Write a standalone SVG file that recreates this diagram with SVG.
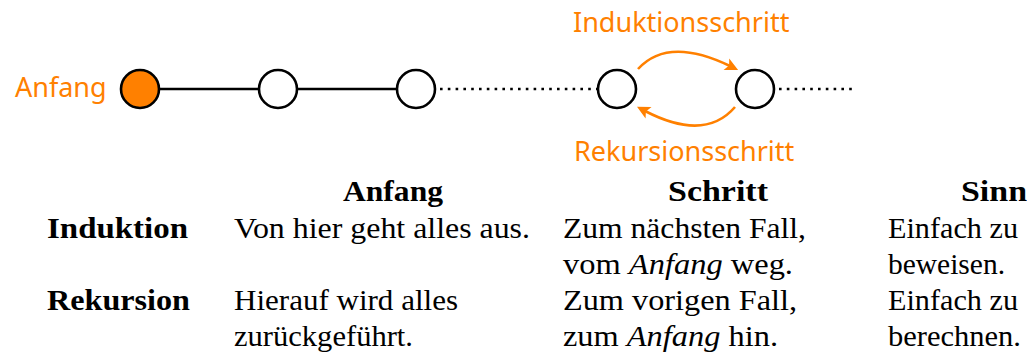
<svg xmlns="http://www.w3.org/2000/svg" width="1027" height="353" viewBox="0 0 1027 353">
<style>
.node{fill:#ffffff;stroke:#000000;stroke-width:2.6}
.start{fill:#ff8000}
.edge{stroke:#000000;stroke-width:2.6;fill:none}
.dot{stroke:#000000;stroke-width:2.6;fill:none;stroke-dasharray:2.6 5.2}
.arc{stroke:#ff8000;stroke-width:2.6;fill:none;marker-end:url(#ah)}
.lbl{font-family:"Noto Sans","Open Sans",sans-serif;font-size:27px;fill:#ff8000}
.t{font-family:"Liberation Serif","Times New Roman",serif;font-size:30px;fill:#000000}
.b{font-weight:bold}
.i{font-style:italic}
</style>
<defs>
<marker id="ah" markerUnits="userSpaceOnUse" markerWidth="24" markerHeight="24" viewBox="-12 -12 24 24" refX="0" refY="0" orient="auto" overflow="visible">
<path d="M-4,-6.5 L9,0 L-4,6.5 L-1,0 Z" fill="#ff8000"/>
</marker>
</defs>
<g id="connectors">
<line class="edge" x1="159" y1="89" x2="259" y2="89"/>
<line class="edge" x1="297" y1="89" x2="397" y2="89"/>
<line class="dot" x1="440" y1="89" x2="597" y2="89"/>
<line class="dot" x1="779" y1="89" x2="856" y2="89"/>
<path class="arc" d="M638,69 Q668,36 730,66"/>
<path class="arc" d="M735,107 Q705,142 645,111"/>
</g>
<g id="node-anfang"><circle class="node start" cx="140" cy="89" r="19"/></g>
<g id="node-2"><circle class="node" cx="278" cy="89" r="19"/></g>
<g id="node-3"><circle class="node" cx="416" cy="89" r="19"/></g>
<g id="node-4"><circle class="node" cx="617" cy="89" r="19"/></g>
<g id="node-5"><circle class="node" cx="755" cy="89" r="19"/></g>
<g id="labels">
<text class="lbl" x="15" y="97">Anfang</text>
<text class="lbl" x="573" y="32">Induktionsschritt</text>
<text class="lbl" x="574" y="161">Rekursionsschritt</text>
</g>
<g id="table">
<text class="t b" x="343" y="201" textLength="100" lengthAdjust="spacingAndGlyphs">Anfang</text>
<text class="t b" x="668" y="201" textLength="100" lengthAdjust="spacingAndGlyphs">Schritt</text>
<text class="t b" x="961" y="201" textLength="66" lengthAdjust="spacingAndGlyphs">Sinn</text>
<text class="t b" x="47" y="238" textLength="141" lengthAdjust="spacingAndGlyphs">Induktion</text>
<text class="t" x="234" y="238" textLength="296" lengthAdjust="spacingAndGlyphs">Von hier geht alles aus.</text>
<text class="t" x="563" y="238" textLength="243" lengthAdjust="spacingAndGlyphs">Zum nächsten Fall,</text>
<text class="t" x="563" y="274" textLength="230" lengthAdjust="spacingAndGlyphs">vom <tspan class="i">Anfang</tspan> weg.</text>
<text class="t" x="888" y="238" textLength="130" lengthAdjust="spacingAndGlyphs">Einfach zu</text>
<text class="t" x="888" y="274" textLength="117" lengthAdjust="spacingAndGlyphs">beweisen.</text>
<text class="t b" x="47" y="310" textLength="143" lengthAdjust="spacingAndGlyphs">Rekursion</text>
<text class="t" x="234" y="310" textLength="224" lengthAdjust="spacingAndGlyphs">Hierauf wird alles</text>
<text class="t" x="234" y="346" textLength="179" lengthAdjust="spacingAndGlyphs">zurückgeführt.</text>
<text class="t" x="563" y="310" textLength="234" lengthAdjust="spacingAndGlyphs">Zum vorigen Fall,</text>
<text class="t" x="563" y="346" textLength="215" lengthAdjust="spacingAndGlyphs">zum <tspan class="i">Anfang</tspan> hin.</text>
<text class="t" x="888" y="310" textLength="130" lengthAdjust="spacingAndGlyphs">Einfach zu</text>
<text class="t" x="888" y="346" textLength="133" lengthAdjust="spacingAndGlyphs">berechnen.</text>
</g>
</svg>
